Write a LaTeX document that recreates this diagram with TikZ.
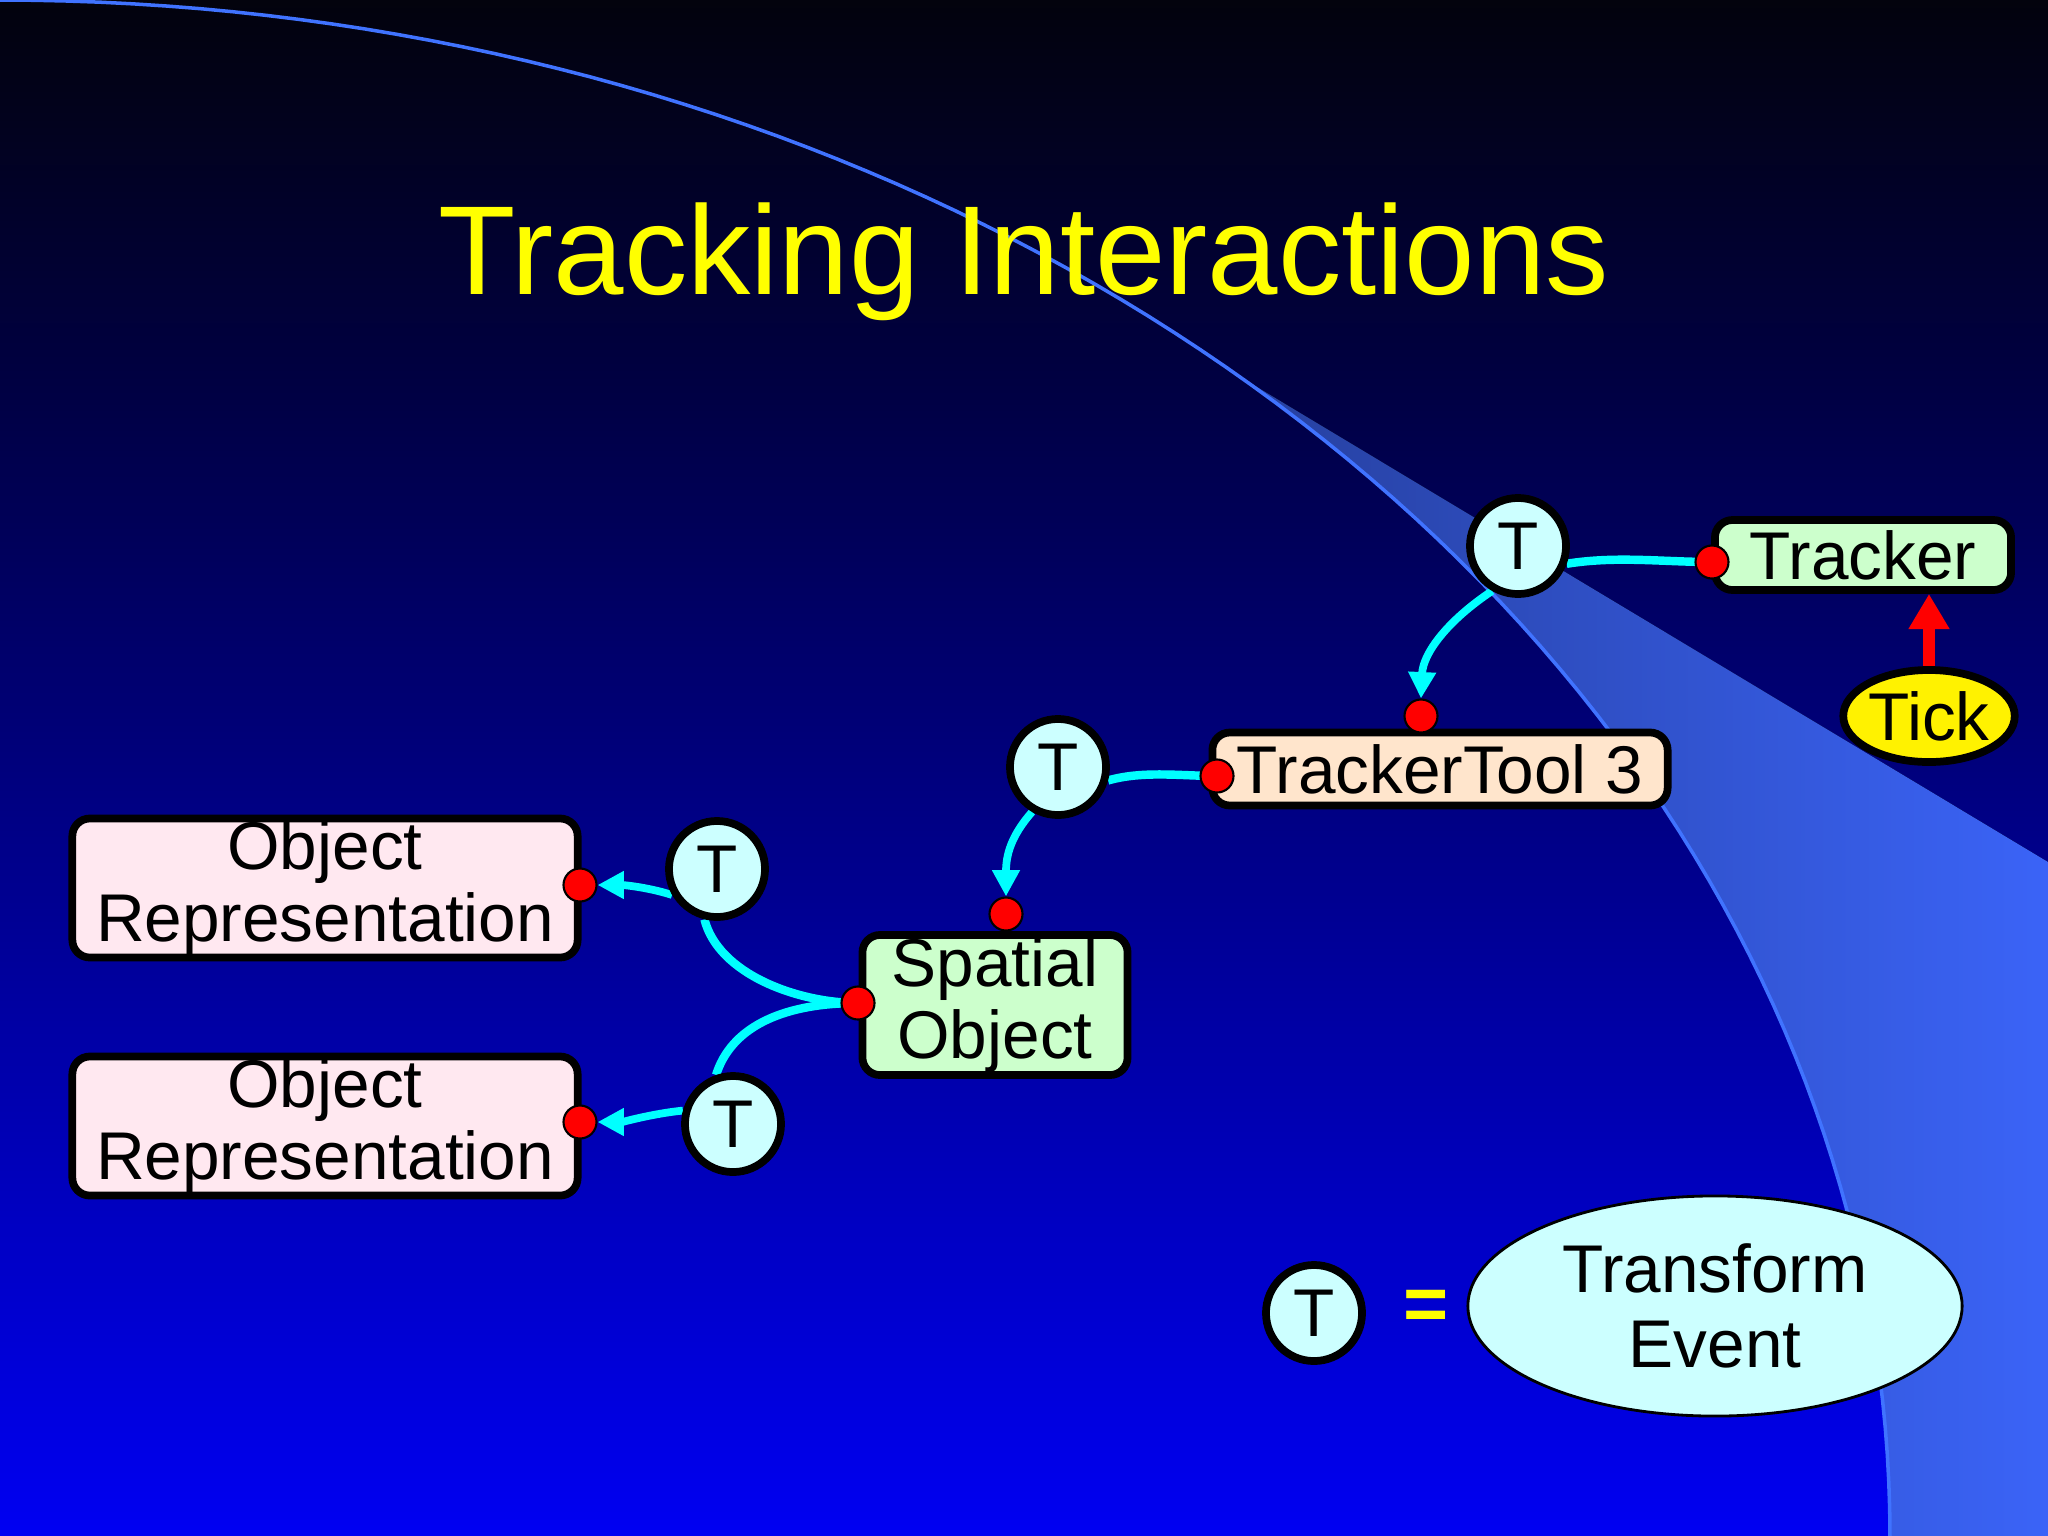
\documentclass[tikz,border=0pt]{standalone}
\usepackage{fontspec}
\setmainfont{Liberation Sans}
\usetikzlibrary{shapes.geometric,arrows.meta}
\definecolor{bgtop}{rgb}{0.01,0.01,0.05}
\definecolor{bgmid}{rgb}{0,0,0.27}
\definecolor{bgbot}{rgb}{0,0,0.95}
\definecolor{bandL}{rgb}{0.15,0.25,0.62}
\definecolor{bandR}{rgb}{0.23,0.39,0.97}
\definecolor{arcblue}{rgb}{0.25,0.45,1}
\definecolor{boxgreen}{HTML}{CCFFCC}
\definecolor{boxpeach}{HTML}{FFE5CC}
\definecolor{boxpink}{HTML}{FFE8F0}
\definecolor{tcyan}{HTML}{CCFFFF}
\definecolor{linecyan}{HTML}{00FFFF}
\definecolor{titleyellow}{HTML}{FFFF00}
\pgfdeclarelayer{background}
\pgfdeclarelayer{edges}
\pgfsetlayers{background,edges,main}
\begin{document}
\begin{tikzpicture}[x=0.01cm,y=-0.01cm,
  lbl/.style={font=\fontsize{19.2}{20.5}\selectfont, align=center, text=black},
  box/.style={lbl, rectangle, rounded corners=5pt, draw=black, line width=2.2pt, inner sep=0pt},
  tev/.style={lbl, circle, draw=black, line width=2.2pt, fill=tcyan, minimum size=0.96cm, inner sep=0pt},
  port/.style={circle, draw=black, line width=0.6pt, fill=red, minimum size=0.33cm, inner sep=0pt},
  flow/.style={draw=linecyan, line width=2.4pt},
  flowarrow/.style={draw=linecyan, line width=2.2pt, -{Triangle[length=7.5pt,width=7.5pt]}},
  tickarrow/.style={draw=red, line width=3.5pt, -{Triangle[length=10pt,width=11pt]}}
]
\useasboundingbox (0,0) rectangle (2048,1536);

\begin{pgfonlayer}{background}
  \fill[top color=bgtop, bottom color=bgmid] (0,0) rectangle (2048,402);
  \fill[top color=bgmid, bottom color=bgbot] (0,400) rectangle (2048,1536);
  \fill[left color=bandL, right color=bandR]
    plot[domain=49:0, samples=50] ({1890*cos(\x)},{1536-1536*sin(\x)})
    -- (2048,1536) -- (2048,862) -- cycle;
  \draw[arcblue, line width=1pt]
    plot[domain=90:0, samples=90] ({1890*cos(\x)},{1536-1536*sin(\x)});
\end{pgfonlayer}

\node[font=\fontsize{36}{40}\selectfont, text=titleyellow, anchor=base] (title) at (1024,294) {Tracking Interactions};

\node[box, fill=boxgreen, minimum width=2.96cm, minimum height=0.70cm] (tracker) at (1863,555) {Tracker};
\node[lbl, ellipse, draw=black, line width=2.2pt, fill=yellow, minimum width=1.66cm, minimum height=0.92cm, inner sep=0pt] (tick) at (1929,716) {Tick};
\node[box, fill=boxpeach, minimum width=4.55cm, minimum height=0.73cm] (tt) at (1440,769) {TrackerTool 3};
\node[box, fill=boxgreen, minimum width=2.65cm, minimum height=1.40cm] (spatial) at (995,1005) {Spatial\\Object};
\node[box, fill=boxpink, minimum width=5.05cm, minimum height=1.39cm] (or1) at (325,888) {Object\\Representation};
\node[box, fill=boxpink, minimum width=5.05cm, minimum height=1.39cm] (or2) at (325,1126) {Object\\Representation};

\node[tev] (t1) at (1518,546) {T};
\node[tev] (t2) at (1058,767) {T};
\node[tev] (t3) at (717,869) {T};
\node[tev] (t4) at (733,1124) {T};

\node[port] (pTracker) at (1712,562) {};
\node[port] (pTTtop) at (1421,716) {};
\node[port] (pTTleft) at (1217,776) {};
\node[port] (pSpTop) at (1006,914) {};
\node[port] (pSpLeft) at (858,1003) {};
\node[port] (pOr1) at (580,885) {};
\node[port] (pOr2) at (580,1122) {};

\node[tev] (tlegend) at (1314,1313) {T};
\node[font=\fontsize{22}{22}\selectfont\bfseries, text=titleyellow] (eq) at (1426,1310) {=};
\node[lbl, font=\fontsize{19.2}{21.2}\selectfont, ellipse, draw=black, line width=0.8pt, fill=tcyan, minimum width=4.94cm, minimum height=2.2cm, inner sep=0pt] (te) at (1715,1306) {Transform\\Event};

\begin{pgfonlayer}{edges}
  \draw[flow] (t1.340) .. controls +(50,-8) and +(-50,0) .. (pTracker.center);
  \draw[flowarrow] (t1.240) .. controls +(-45,30) and +(2,-45) .. (pTTtop.north);
  \draw[flow] (t2.345) .. controls +(35,-10) and +(-35,0) .. (pTTleft.center);
  \draw[flowarrow] (t2.240) .. controls +(-22,25) and +(0,-40) .. (pSpTop.north);
  \draw[flow] (pSpLeft.center) .. controls +(-60,0) and +(14,55) .. (t3.256);
  \draw[flow] (pSpLeft.center) .. controls +(-80,0) and +(14,-45) .. (t4.109);
  \draw[flowarrow] (t3.210) .. controls +(-25,-8) and +(25,0) .. (pOr1.east);
  \draw[flowarrow] (t4.165) .. controls +(-30,3) and +(25,0) .. (pOr2.east);
  \draw[tickarrow] (tick.north) -- (tick.north |- tracker.south);
\end{pgfonlayer}
\end{tikzpicture}
\end{document}
